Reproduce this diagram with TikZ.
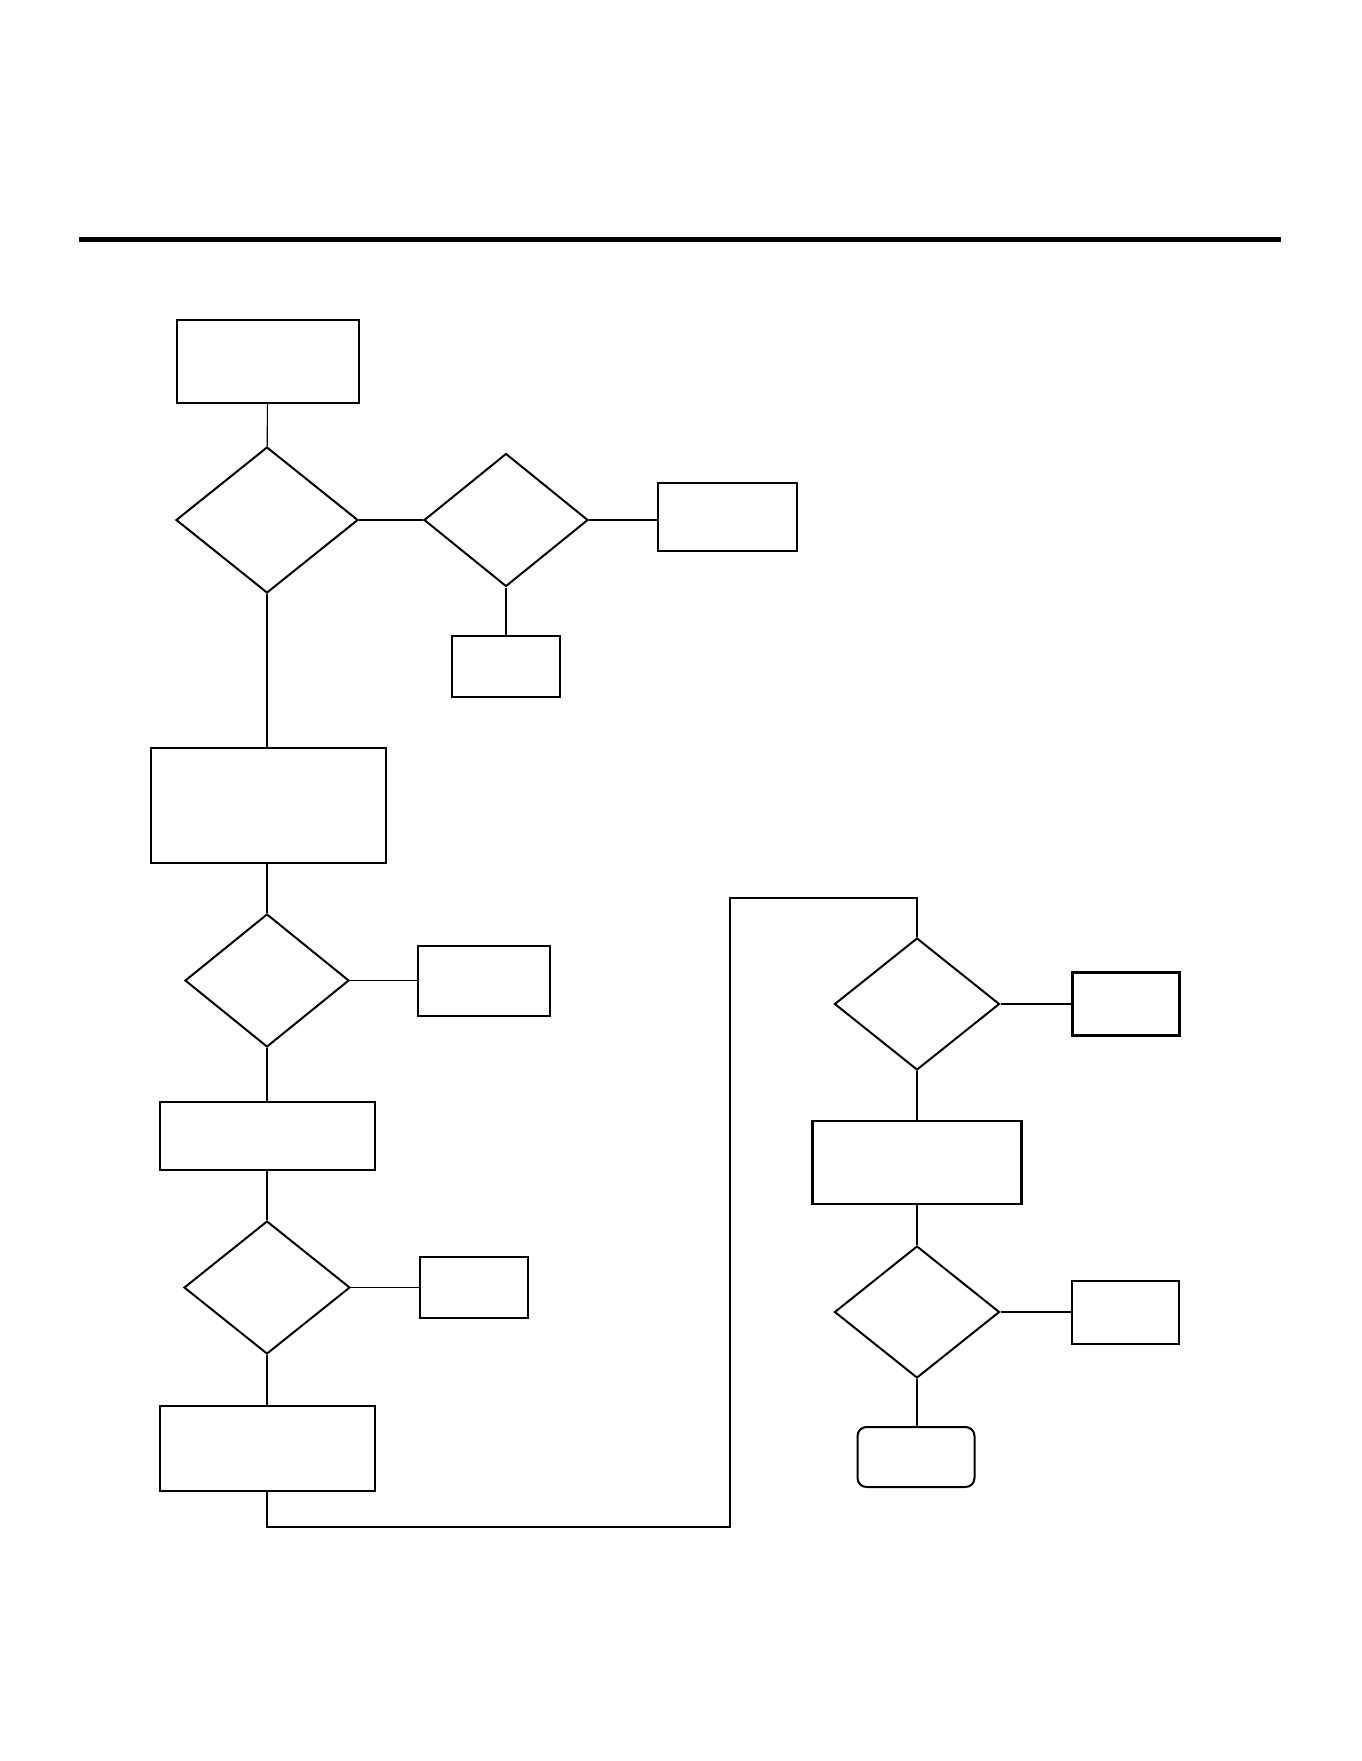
\documentclass[tikz,border=0pt]{standalone}
\usepackage{tikz}
\usetikzlibrary{positioning,shapes.geometric}

\begin{document}
\begin{tikzpicture}[x=1pt,y=-1pt,
  procbox/.style={draw,line width=2pt,minimum width=#1,inner sep=0pt},
  decision/.style={draw,diamond,line width=2pt,inner sep=0pt},
  link/.style={line width=1.1pt}]
\useasboundingbox (0,0) rectangle (1361,1761);
% header rule
\draw[line width=5pt] (79,239) -- (1281,239);
% left column
\node[procbox=182pt,minimum height=83pt] (start) at (267.5,361.5) {};
\node[decision,minimum width=182pt,minimum height=146pt] (dA) at (267,520) {};
\node[decision,minimum width=164pt,minimum height=133pt] (dB) at (506,520) {};
\node[procbox=139pt,minimum height=68pt,line width=2.4pt] (outB) at (727.5,517) {};
\node[procbox=108pt,minimum height=61pt] (downB) at (506,666.5) {};
\node[procbox=235pt,minimum height=115pt] (stepB) at (268,805.5) {};
\node[decision,minimum width=164pt,minimum height=133pt] (dC) at (267,980.5) {};
\node[procbox=132pt,minimum height=70pt] (outC) at (484,980.5) {};
\node[procbox=215pt,minimum height=68pt] (stepC) at (267,1136) {};
\node[decision,minimum width=166pt,minimum height=133pt] (dD) at (267,1287.5) {};
\node[procbox=108pt,minimum height=61pt] (outD) at (474,1287.5) {};
\node[procbox=215pt,minimum height=85pt] (stepD) at (267,1448.5) {};
% right column
\node[decision,minimum width=165pt,minimum height=132pt] (dE) at (917,1004) {};
\node[procbox=107pt,minimum height=63pt,line width=2.4pt] (outE) at (1126,1004) {};
\node[procbox=209pt,minimum height=83pt,line width=2.4pt] (stepE) at (917,1162.5) {};
\node[decision,minimum width=165pt,minimum height=132pt] (dF) at (917,1312) {};
\node[procbox=107pt,minimum height=63pt] (outF) at (1125,1312) {};
\node[draw,line width=2pt,rounded corners=9pt,minimum width=117pt,minimum height=60pt,inner sep=0pt] (finish) at (916,1457) {};
% connectors
\draw[link] (start) -- (dA);
\draw[link] (dA.east) -- (dB.west);
\draw[link] (dB.east) -- (dB.east -| outB.west);
\draw[link] (dB.south) -- (downB.north);
\draw[link] (dA.south) -- (stepB.north -| dA.south);
\draw[link] (stepB.south -| dC.north) -- (dC);
\draw[link] (dC.east) -- (outC.west);
\draw[link] (dC) -- (stepC);
\draw[link] (stepC) -- (dD);
\draw[link] (dD.east) -- (outD.west);
\draw[link] (dD) -- (stepD);
\coordinate (turnA) at (730,1527);
\coordinate (turnB) at (730,898);
\draw[link] (stepD.south) |- (turnA) -- (turnB) -| (dE.north);
\draw[link] (dE.east) -- (outE.west);
\draw[link] (dE) -- (stepE);
\draw[link] (stepE) -- (dF);
\draw[link] (dF.east) -- (outF.west);
\draw[link] (dF.south) -- (finish.north -| dF.south);
\end{tikzpicture}
\end{document}
